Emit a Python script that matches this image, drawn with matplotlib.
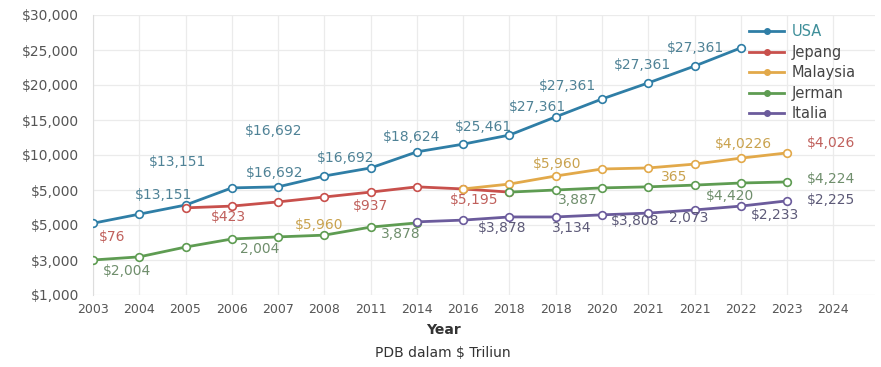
import matplotlib
matplotlib.use("Agg")
import matplotlib.pyplot as plt
from matplotlib.lines import Line2D
import numpy as np

# ---- data (y in axis-tick units: 0 = "$1,000" tick ... 8 = "$30,000" tick) ----
years = ["2003", "2004", "2005", "2006", "2007", "2008", "2011", "2014", "2016",
         "2018", "2018", "2020", "2021", "2021", "2022", "2023", "2024"]
ytick_labels = ["$1,000", "$3,000", "$5,000", "$5,000", "$10,000", "$15,000",
                "$20,000", "$25,000", "$30,000"]

nan = np.nan
usa = [2.05, 2.31, 2.57, 3.06, 3.09, 3.40, 3.63, 4.09, 4.31, 4.57, 5.09, 5.60,
       6.06, 6.54, 7.06, nan, nan]
jepang = [nan, nan, 2.49, 2.54, 2.66, 2.80, 2.94, 3.09, 3.03, 2.94, nan, nan,
          nan, nan, nan, nan, nan]
malaysia = [nan, nan, nan, nan, nan, nan, nan, nan, 3.03, 3.17, 3.40, 3.60,
            3.63, 3.74, 3.91, 4.06, nan]
jerman = [1.00, 1.09, 1.37, 1.60, 1.66, 1.71, 1.94, 2.06, nan, 2.94, 3.00, 3.06,
          3.09, 3.14, 3.20, 3.23, nan]
italia = [nan, nan, nan, nan, nan, nan, nan, 2.09, 2.14, 2.23, 2.23, 2.29,
          2.34, 2.43, 2.54, 2.69, nan]

series_names = ["USA", "Jepang", "Malaysia", "Jerman", "Italia"]
series_values = [usa, jepang, malaysia, jerman, italia]
series_colors = ["#2f7ea6", "#c8504c", "#e2a94a", "#5e9c52", "#6b5b9c"]
label_colors = ["#4f8296", "#c0605c", "#c9a24e", "#6f8e6c", "#5d5a78"]

# data labels: (text, x category index, y in tick units)
usa_labels = [("$13,151", 1.83, 3.80), ("$13,151", 1.53, 2.86), ("$16,692", 3.91, 4.69),
              ("$16,692", 3.93, 3.49), ("$16,692", 5.46, 3.91), ("$18,624", 6.88, 4.51),
              ("$25,461", 8.45, 4.80), ("$27,361", 9.61, 5.37), ("$27,361", 10.25, 5.97),
              ("$27,361", 11.88, 6.57), ("$27,361", 13.03, 7.06)]
jepang_labels = [("$76", 0.41, 1.66), ("$423", 2.93, 2.23), ("$937", 6.0, 2.54),
                 ("$5,195", 8.23, 2.71), ("$4,026", 15.94, 4.34)]
malaysia_labels = [("$5,960", 10.04, 3.74), ("$5,960", 4.89, 2.0), ("365", 12.55, 3.37),
                   ("$4,0226", 14.06, 4.31)]
jerman_labels = [("$2,004", 0.74, 0.69), ("2,004", 3.6, 1.31), ("3,878", 6.66, 1.74),
                 ("3,887", 10.48, 2.71), ("$4,420", 13.76, 2.83), ("$4,224", 15.94, 3.31)]
italia_labels = [("$3,878", 8.84, 1.91), ("3,134", 10.35, 1.91), ("$3,808", 11.72, 2.11),
                 ("2,073", 12.88, 2.20), ("$2,233", 14.74, 2.29), ("$2,225", 15.94, 2.71)]
all_labels = [usa_labels, jepang_labels, malaysia_labels, jerman_labels, italia_labels]

plt.rcParams['font.family'] = ['DejaVu Sans']

fig = plt.figure(figsize=(8.81, 3.67), dpi=100)
ax = fig.add_axes([93 / 881, 1 - 295 / 367, (875 - 93) / 881, 280 / 367])

x = np.arange(len(years))
handles = []
for name, vals, col in zip(series_names, series_values, series_colors):
    ax.plot(x, vals, color=col, lw=2.0, marker='o', ms=5.5,
            markerfacecolor='white', markeredgecolor=col, markeredgewidth=1.2,
            zorder=3)
    handles.append(Line2D([], [], color=col, lw=2.0, marker='o', ms=4,
                          markerfacecolor=col, markeredgecolor=col))

for labs, col in zip(all_labels, label_colors):
    for txt, lx, ly in labs:
        ax.text(lx, ly, txt, color=col, fontsize=10, ha='center', va='center', zorder=4)

ax.set_xlim(0, 16.9)
ax.set_ylim(0, 8)
ax.set_xticks(x)
ax.set_xticklabels(years)
ax.set_yticks(np.arange(len(ytick_labels)))
ax.set_yticklabels(ytick_labels)
ax.tick_params(axis='both', length=0, colors='#555555')
ax.tick_params(axis='x', labelsize=9, pad=6)
ax.tick_params(axis='y', labelsize=10, pad=10)
ax.grid(True, color='#ebebeb', lw=0.9)
ax.set_axisbelow(True)
for s in ['top', 'right', 'bottom']:
    ax.spines[s].set_visible(False)
ax.spines['left'].set_color('#dddddd')

fig.text(443 / 881, 1 - 330 / 367, "Year", ha='center', va='center', fontsize=10,
         color='#333333', fontweight='bold')
fig.text(443 / 881, 1 - 353 / 367, "PDB dalam $ Triliun", ha='center', va='center',
         fontsize=10, color='#333333')

leg = ax.legend(handles, series_names, loc='upper left',
                bbox_to_anchor=(742 / 881, 1 - 17 / 367), bbox_transform=fig.transFigure,
                frameon=False, fontsize=10.5, handlelength=2.4, labelspacing=0.38,
                handletextpad=0.5, borderpad=0)
for t in leg.get_texts():
    t.set_color('#444444')
leg.get_texts()[0].set_color('#3f8f9a')

fig.savefig("out.png", dpi=100)
